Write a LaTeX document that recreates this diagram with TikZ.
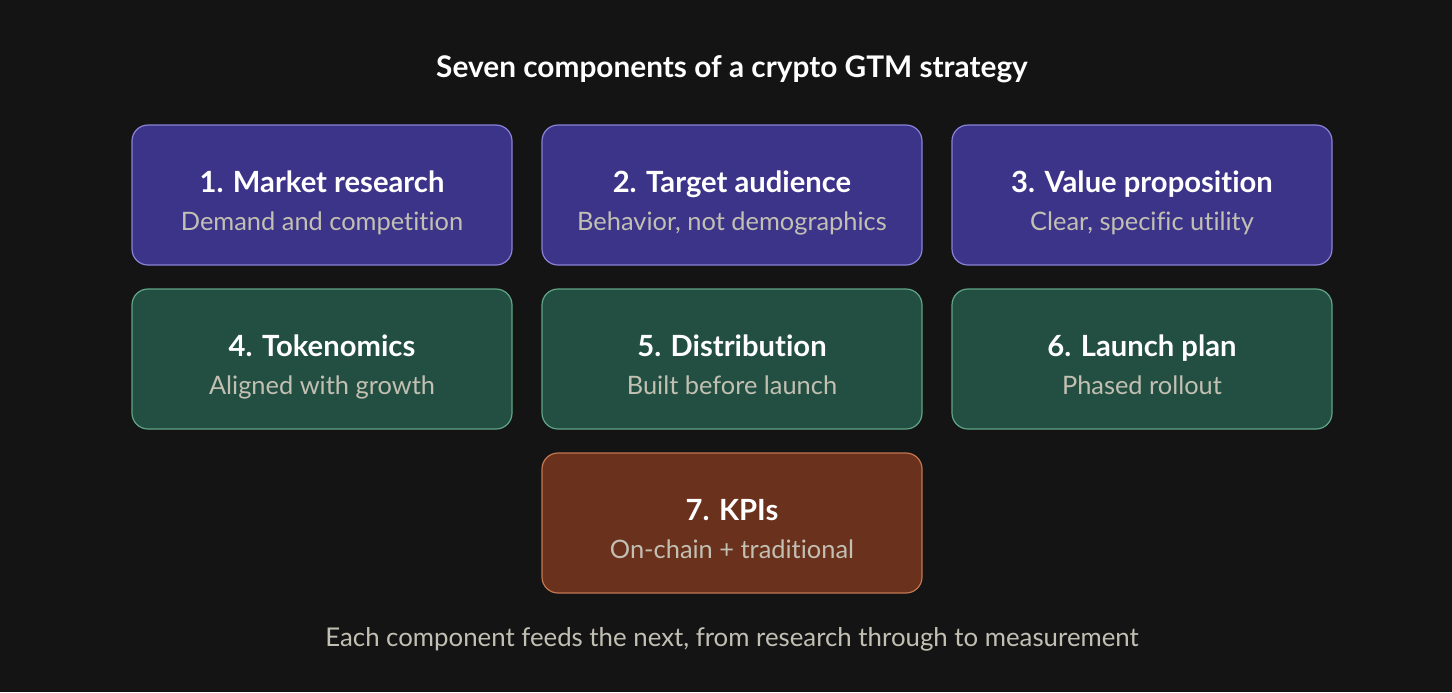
\documentclass[tikz,border=0pt]{standalone}
\usepackage{fontspec}
\setmainfont{Lato}[Ligatures=NoCommon]
\definecolor{bgdark}{HTML}{141414}
\definecolor{purplefill}{HTML}{3C3489}
\definecolor{purpleline}{HTML}{8A82D6}
\definecolor{greenfill}{HTML}{234F42}
\definecolor{greenline}{HTML}{5FA586}
\definecolor{brownfill}{HTML}{6A311C}
\definecolor{brownline}{HTML}{C27752}
\definecolor{subgrey}{HTML}{C2BFB3}
\tikzset{
  card/.style={rounded corners=8pt, line width=0.6pt, minimum width=190pt,
    minimum height=70pt, inner sep=0pt},
  research/.style={card, fill=purplefill, draw=purpleline},
  build/.style={card, fill=greenfill, draw=greenline},
  measure/.style={card, fill=brownfill, draw=brownline},
  head/.style={anchor=base, text=white, font=\fontsize{14.6}{17}\selectfont\bfseries},
  sub/.style={anchor=base, text=subgrey, font=\fontsize{12.7}{15}\selectfont},
}
% \cardbox{name}{style}{position}{heading}{subline}
\newcommand{\cardbox}[5]{%
  \node[#2] (#1) at (#3) {};
  \node[head] (#1-head) at ([yshift=1.5pt]#1.center) {#4};
  \node[sub] (#1-sub) at ([yshift=-17.5pt]#1.center) {#5};
}
\begin{document}
\begin{tikzpicture}[x=0.5pt,y=-0.5pt]
\fill[bgdark] (0,0) rectangle (1452,692);
\useasboundingbox (0,0) rectangle (1452,692);
\node[head, font=\fontsize{14.9}{17}\selectfont\bfseries] (title) at (732,77) {Seven components of a crypto GTM strategy};
\cardbox{market}{research}{322,195}{1. Market research}{Demand and competition}
\cardbox{audience}{research}{732,195}{2. Target audience}{Behavior, not demographics}
\cardbox{value}{research}{1142,195}{3. Value proposition}{Clear, specific utility}
\cardbox{tokens}{build}{322,359}{4. Tokenomics}{Aligned with growth}
\cardbox{distrib}{build}{732,359}{5. Distribution}{Built before launch}
\cardbox{launch}{build}{1142,359}{6. Launch plan}{Phased rollout}
\cardbox{kpis}{measure}{732,523}{7. KPIs}{On-chain + traditional}
\node[sub, font=\fontsize{12.9}{15}\selectfont] (footer) at (732,646) {Each component feeds the next, from research through to measurement};
\end{tikzpicture}
\end{document}
